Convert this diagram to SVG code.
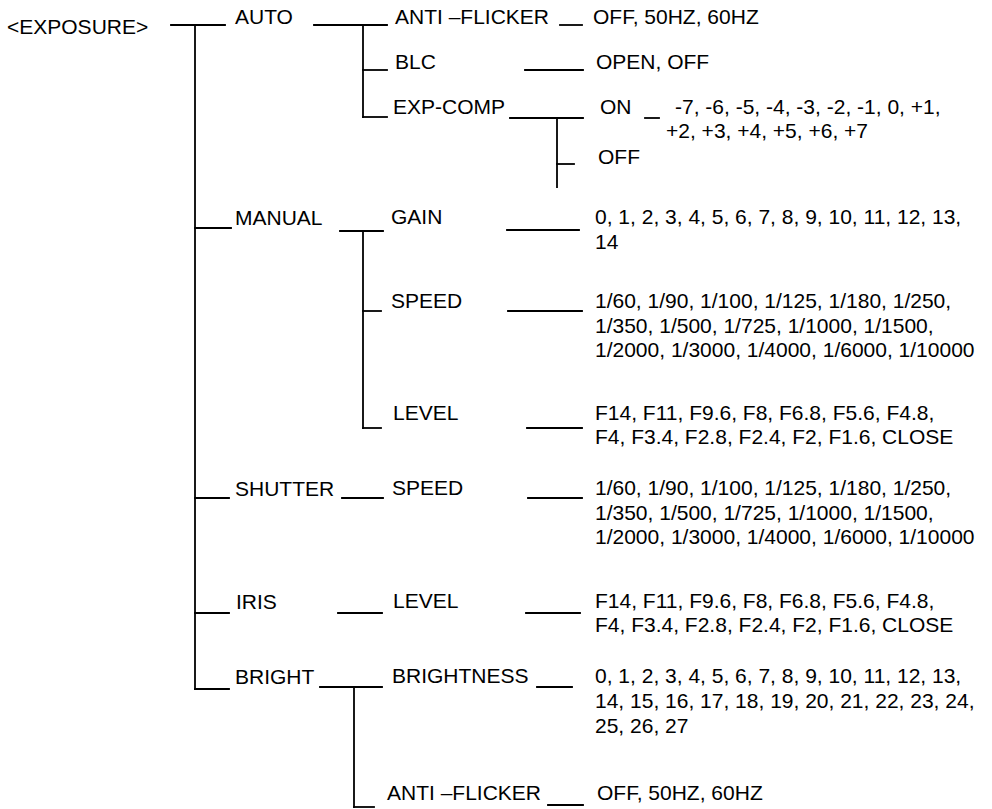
<svg xmlns="http://www.w3.org/2000/svg" width="992" height="809" viewBox="0 0 992 809">
<style>
text{font-family:"Liberation Sans",Arial,sans-serif;font-size:21px;fill:#000}
.c line{stroke:#000;stroke-width:1.8;stroke-linecap:square}
</style>
<rect width="992" height="809" fill="#fff"/>
<g class="c" id="connectors">
<line x1="171" y1="25" x2="225" y2="25"/>
<line x1="195" y1="25" x2="195" y2="689"/>
<line x1="195" y1="228" x2="231" y2="228"/>
<line x1="195" y1="498" x2="229" y2="498"/>
<line x1="195" y1="613" x2="229" y2="613"/>
<line x1="195" y1="689" x2="229" y2="689"/>
<line x1="314" y1="25" x2="387" y2="25"/>
<line x1="363" y1="25" x2="363" y2="117"/>
<line x1="363" y1="70" x2="387" y2="70"/>
<line x1="363" y1="117" x2="387" y2="117"/>
<line x1="560" y1="25" x2="582" y2="25"/>
<line x1="525" y1="70" x2="583" y2="70"/>
<line x1="510" y1="118" x2="583" y2="118"/>
<line x1="557" y1="118" x2="557" y2="187"/>
<line x1="557" y1="164" x2="574" y2="164"/>
<line x1="645" y1="118" x2="659" y2="118"/>
<line x1="340" y1="231" x2="383" y2="231"/>
<line x1="363" y1="231" x2="363" y2="428"/>
<line x1="363" y1="311" x2="381" y2="311"/>
<line x1="363" y1="428" x2="381" y2="428"/>
<line x1="507" y1="230" x2="579" y2="230"/>
<line x1="508" y1="311" x2="582" y2="311"/>
<line x1="527" y1="428" x2="582" y2="428"/>
<line x1="342" y1="498" x2="383" y2="498"/>
<line x1="528" y1="498" x2="582" y2="498"/>
<line x1="338" y1="613" x2="382" y2="613"/>
<line x1="526" y1="613" x2="580" y2="613"/>
<line x1="320" y1="687" x2="382" y2="687"/>
<line x1="354" y1="687" x2="354" y2="807"/>
<line x1="354" y1="807" x2="374" y2="807"/>
<line x1="537" y1="687" x2="572" y2="687"/>
<line x1="548" y1="805" x2="583" y2="805"/>
</g>
<g id="exposure"><text x="7" y="34">&lt;EXPOSURE&gt;</text></g>
<g id="auto"><text x="235" y="24">AUTO</text></g>
<g id="auto-antiflicker"><text x="395" y="24">ANTI –FLICKER</text></g>
<g id="auto-antiflicker-values"><text x="593" y="24">OFF, 50HZ, 60HZ</text></g>
<g id="blc"><text x="395" y="69">BLC</text></g>
<g id="blc-values"><text x="596" y="69">OPEN, OFF</text></g>
<g id="expcomp"><text x="393" y="114">EXP-COMP</text></g>
<g id="expcomp-on"><text x="600" y="114">ON</text></g>
<g id="expcomp-on-values"><text x="675" y="114">-7, -6, -5, -4, -3, -2, -1, 0, +1,</text><text x="666" y="138">+2, +3, +4, +5, +6, +7</text></g>
<g id="expcomp-off"><text x="598" y="164">OFF</text></g>
<g id="manual"><text x="235" y="225">MANUAL</text></g>
<g id="gain"><text x="391" y="224">GAIN</text></g>
<g id="gain-values"><text x="595" y="224">0, 1, 2, 3, 4, 5, 6, 7, 8, 9, 10, 11, 12, 13,</text><text x="595" y="249">14</text></g>
<g id="manual-speed"><text x="391" y="308">SPEED</text></g>
<g id="manual-speed-values"><text x="595" y="308">1/60, 1/90, 1/100, 1/125, 1/180, 1/250,</text><text x="595" y="333">1/350, 1/500, 1/725, 1/1000, 1/1500,</text><text x="595" y="357">1/2000, 1/3000, 1/4000, 1/6000, 1/10000</text></g>
<g id="manual-level"><text x="393" y="420">LEVEL</text></g>
<g id="manual-level-values"><text x="595" y="420">F14, F11, F9.6, F8, F6.8, F5.6, F4.8,</text><text x="595" y="444">F4, F3.4, F2.8, F2.4, F2, F1.6, CLOSE</text></g>
<g id="shutter"><text x="235" y="496">SHUTTER</text></g>
<g id="shutter-speed"><text x="392" y="495">SPEED</text></g>
<g id="shutter-speed-values"><text x="595" y="495">1/60, 1/90, 1/100, 1/125, 1/180, 1/250,</text><text x="595" y="520">1/350, 1/500, 1/725, 1/1000, 1/1500,</text><text x="595" y="544">1/2000, 1/3000, 1/4000, 1/6000, 1/10000</text></g>
<g id="iris"><text x="236" y="609">IRIS</text></g>
<g id="iris-level"><text x="393" y="608">LEVEL</text></g>
<g id="iris-level-values"><text x="595" y="608">F14, F11, F9.6, F8, F6.8, F5.6, F4.8,</text><text x="595" y="632">F4, F3.4, F2.8, F2.4, F2, F1.6, CLOSE</text></g>
<g id="bright"><text x="235" y="684">BRIGHT</text></g>
<g id="brightness"><text x="392" y="683">BRIGHTNESS</text></g>
<g id="brightness-values"><text x="595" y="683">0, 1, 2, 3, 4, 5, 6, 7, 8, 9, 10, 11, 12, 13,</text><text x="595" y="708">14, 15, 16, 17, 18, 19, 20, 21, 22, 23, 24,</text><text x="595" y="733">25, 26, 27</text></g>
<g id="bright-antiflicker"><text x="387" y="800">ANTI –FLICKER</text></g>
<g id="bright-antiflicker-values"><text x="597" y="800">OFF, 50HZ, 60HZ</text></g>
</svg>
